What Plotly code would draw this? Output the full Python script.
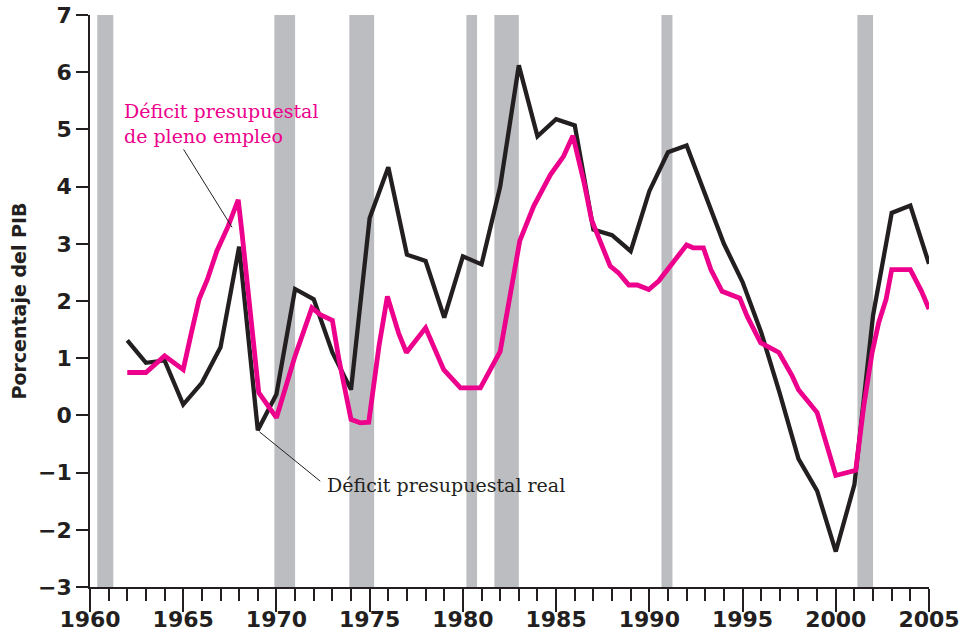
import numpy as np
import plotly.graph_objects as go

# Actual budget deficit, % of GDP (annual)
real_years = list(range(1962, 2006))
real_deficit = [1.31, 0.92, 0.96, 0.19, 0.57, 1.19, 2.95, -0.26, 0.37, 2.21,
                2.03, 1.10, 0.45, 3.45, 4.34, 2.81, 2.70, 1.71, 2.78, 2.64,
                4.00, 6.12, 4.88, 5.18, 5.07, 3.25, 3.15, 2.87, 3.92, 4.60,
                4.72, 3.88, 3.00, 2.33, 1.45, 0.38, -0.76, -1.32, -2.38, -1.21,
                1.75, 3.54, 3.67, 2.65]

# Full-employment (structural) budget deficit, % of GDP
full_years = [1962, 1963, 1964, 1965, 1965.4, 1965.85, 1966.3, 1966.8, 1967.4,
              1967.95, 1968.15, 1968.4, 1969.05, 1970.0, 1971.0, 1971.9, 1972.35,
              1973.0, 1973.35, 1974.0, 1974.5, 1974.95, 1975.5, 1975.95, 1976.55,
              1976.97, 1978.0, 1978.97, 1979.87, 1980.94, 1982.0, 1983.05, 1983.8,
              1984.7, 1985.4, 1985.9, 1986.5, 1986.9, 1987.9, 1988.35, 1988.9,
              1989.35, 1989.97, 1990.5, 1991.3, 1992.0, 1992.35, 1992.9, 1993.3,
              1993.9, 1994.85, 1995.25, 1995.97, 1996.95, 1997.66, 1998.0, 1999.0,
              2000.0, 2001.07, 2001.5, 2001.95, 2002.3, 2002.7, 2003.0, 2004.0,
              2004.6, 2005.0]
full_deficit = [0.75, 0.75, 1.04, 0.80, 1.39, 2.03, 2.38, 2.87, 3.30,
                3.77, 3.20, 2.43, 0.40, -0.04, 1.04, 1.88, 1.76,
                1.66, 0.98, -0.07, -0.13, -0.12, 1.21, 2.08, 1.44,
                1.10, 1.53, 0.80, 0.48, 0.48, 1.12, 3.05, 3.66,
                4.21, 4.53, 4.89, 4.07, 3.42, 2.61, 2.49, 2.28,
                2.28, 2.20, 2.35, 2.67, 2.98, 2.93, 2.93, 2.55,
                2.17, 2.05, 1.73, 1.27, 1.10, 0.69, 0.45, 0.05,
                -1.05, -0.96, 0.16, 1.10, 1.62, 2.03, 2.55, 2.55,
                2.17, 1.86]

# Recession periods (start, end)
recession_start = [1960.39, 1969.89, 1973.91, 1980.19, 1981.69, 1990.65, 2001.16]
recession_end = [1961.25, 1971.0, 1975.24, 1980.76, 1983.0, 1991.24, 2002.0]

x_ticks = list(range(1960, 2006, 5))
y_ticks = list(range(-3, 8))

INK = "#231f20"
MAGENTA = "#ec008c"
BAND = "#bcbdc0"
SANS = "DejaVu Sans"
SERIF = "DejaVu Serif"

fig = go.Figure()

for s, e in zip(recession_start, recession_end):
    fig.add_shape(type="rect", xref="x", yref="y", x0=s, x1=e, y0=-3, y1=7,
                  fillcolor=BAND, line_width=0, layer="below")

fig.add_trace(go.Scatter(x=real_years, y=real_deficit, mode="lines",
                         line=dict(color=INK, width=4.3), showlegend=False))
fig.add_trace(go.Scatter(x=full_years, y=full_deficit, mode="lines",
                         line=dict(color=MAGENTA, width=4.8), showlegend=False))

# Leader lines from the labels to the curves
pink_tip_x = 1967.62
pink_tip_y = float(np.interp(pink_tip_x, full_years, full_deficit)) - 0.2
fig.add_shape(type="line", xref="x", yref="y", x0=1965.02, y0=4.65,
              x1=pink_tip_x, y1=pink_tip_y, line=dict(color=INK, width=1))
black_tip_x = 1969
black_tip_y = real_deficit[real_years.index(1969)]
fig.add_shape(type="line", xref="x", yref="y", x0=black_tip_x + 0.1, y0=black_tip_y - 0.03,
              x1=1972.35, y1=-1.15, line=dict(color=INK, width=1))

fig.add_annotation(x=1961.7, y=5.11, xref="x", yref="y", xanchor="left", yanchor="middle",
                   text="Déficit presupuestal<br>de pleno empleo", showarrow=False,
                   align="left", font=dict(family=SERIF, size=19, color=MAGENTA))
fig.add_annotation(x=1972.62, y=-1.21, xref="x", yref="y", xanchor="left", yanchor="middle",
                   text="Déficit presupuestal real", showarrow=False,
                   align="left", font=dict(family=SERIF, size=19, color=INK))

fig.update_layout(
    width=960, height=643,
    margin=dict(l=90, r=31, t=15, b=56),
    paper_bgcolor="white", plot_bgcolor="white",
    xaxis=dict(range=[1960, 2005], tickvals=x_ticks, ticktext=[str(v) for v in x_ticks],
               ticks="outside", ticklen=23, tickwidth=1.5, tickcolor=INK,
               showline=True, linecolor=INK, linewidth=1.5,
               showgrid=False, zeroline=False, automargin=False,
               ticklabelstandoff=-11,
               tickfont=dict(family=SANS, size=22, color=INK, weight="bold"),
               minor=dict(dtick=1, tick0=1960, ticks="outside", ticklen=12,
                          tickwidth=1.5, tickcolor=INK, showgrid=False)),
    yaxis=dict(range=[-3, 7], tickvals=y_ticks, ticks="outside", ticklen=12,
               tickwidth=1.5, tickcolor=INK, showline=True, linecolor=INK, linewidth=1.5,
               showgrid=False, zeroline=False, automargin=False,
               tickfont=dict(family=SANS, size=22, color=INK, weight="bold"),
               title=dict(text="Porcentaje del PIB", standoff=6,
                          font=dict(family=SANS, size=19, color=INK, weight="bold"))),
)

fig.write_html("out.html")
